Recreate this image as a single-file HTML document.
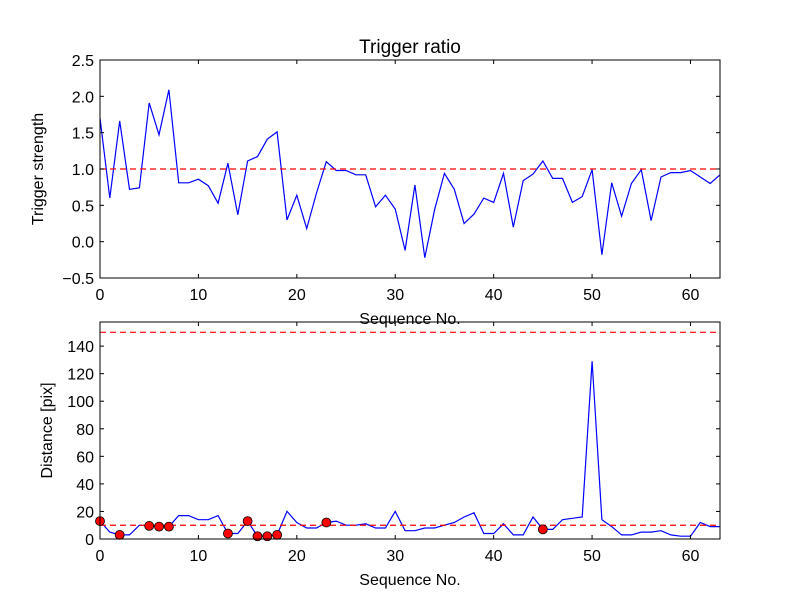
<!DOCTYPE html>
<html><head><meta charset="utf-8"><style>
body{margin:0;background:#fff}
svg text{font-family:"Liberation Sans","DejaVu Sans",sans-serif;fill:#000}
</style></head><body>
<svg id="c" width="800" height="600" xmlns="http://www.w3.org/2000/svg">
<rect width="800" height="600" fill="#fff"/>
</svg>
<script>
const seqIdx = Array.from({length:64},(_,i)=>i);
const ratioValues = [1.7,0.6,1.66,0.72,0.74,1.91,1.47,2.09,0.81,0.81,0.86,0.77,0.53,1.08,0.37,1.11,1.17,1.41,1.51,0.3,0.64,0.18,0.67,1.1,0.98,0.98,0.92,0.92,0.48,0.64,0.45,-0.12,0.78,-0.22,0.44,0.94,0.72,0.25,0.38,0.6,0.54,0.94,0.2,0.84,0.93,1.11,0.87,0.87,0.54,0.62,0.99,-0.18,0.81,0.35,0.8,0.99,0.29,0.89,0.95,0.95,0.98,0.89,0.8,0.92];
const distValues = [13,5,3,3,10,9.5,9,9,17,17,14,14,17,4,4,13,2,2,3,20,12,8,8,12,13,10,10,11,8,8,20,6,6,8,8,10,12,16,19,4,4,11,3,3,16,7,7,14,15,16,129,14,9,3,3,5,5,6,3,2,2,12,9,9];
const flaggedIdx = [0,2,5,6,7,13,15,16,17,18,23,45];
const ratioThreshold = 1.0;
const distThresholds = [10,150];
const xTicks = [0,10,20,30,40,50,60];
const ratioTicks = [-0.5,0.0,0.5,1.0,1.5,2.0,2.5];
const distTicks = [0,20,40,60,80,100,120,140];

const NS="http://www.w3.org/2000/svg";
const svg=document.getElementById('c');
function mk(tag,attrs,parent){const e=document.createElementNS(NS,tag);for(const k in attrs)e.setAttribute(k,attrs[k]);(parent||svg).appendChild(e);return e;}
const L=100,R=720;
const sx=v=>L+(v-0)/(63-0)*(R-L);
function panel(top,bot,ymin,ymax,ticks,fmt,name){
  const sy=v=>bot-(v-ymin)/(ymax-ymin)*(bot-top);
  const g=mk('g',{});
  
  
  return {sy,g,top,bot,ticks,fmt};
}
function axes(p,yTitle,yName){
  const {g,sy,top,bot}=p;
  const fr=mk('rect',{x:L,y:top,width:R-L,height:bot-top,fill:'none',stroke:'#000','stroke-width':1},g);
  
  
  xTicks.forEach(t=>{const x=sx(t);
    mk('line',{x1:x,x2:x,y1:bot,y2:bot-4,stroke:'#000'},g);
    mk('line',{x1:x,x2:x,y1:top,y2:top+4,stroke:'#000'},g);
    const tx=mk('text',{x:x,y:bot+22,'text-anchor':'middle','font-size':16},g);tx.textContent=t;
    
    });
  p.ticks.forEach(t=>{const y=sy(t);
    mk('line',{x1:L,x2:L+4,y1:y,y2:y,stroke:'#000'},g);
    mk('line',{x1:R,x2:R-4,y1:y,y2:y,stroke:'#000'},g);
    const tx=mk('text',{x:L-6,y:y+6,'text-anchor':'end','font-size':16},g);tx.textContent=p.fmt(t);
    
    });
  const xl=mk('text',{x:410,y:bot+46,'text-anchor':'middle','font-size':16},g);xl.textContent='Sequence No.';
  
  
  const yl=mk('text',{x:0,y:0,'text-anchor':'middle','font-size':16,transform:`translate(${yName==='top'?43:52},${(top+bot)/2}) rotate(-90)`},g);yl.textContent=yTitle;
  
  
}
function hline(p,v){const y=p.sy(v);const l=mk('line',{x1:L,x2:R,y1:y,y2:y,stroke:'#f00','stroke-width':1.2,'stroke-dasharray':'6,4'},p.g);
  
  }
function series(p,vals){const d=vals.map((v,i)=>(i?'L':'M')+sx(seqIdx[i]).toFixed(1)+','+p.sy(v).toFixed(1)).join('');
  const pa=mk('path',{d:d,fill:'none',stroke:'#00f','stroke-width':1.2},p.g);
  
  }

const t=document.createElementNS(NS,'text');
t.setAttribute('x',410);t.setAttribute('y',53);t.setAttribute('text-anchor','middle');t.setAttribute('font-size',19);
t.textContent='Trigger ratio';


svg.appendChild(t);

const p1=panel(60,278,-0.5,2.5,ratioTicks,v=>v<0?'\u22120.5':v.toFixed(1),'trigger-strength-panel');
series(p1,ratioValues);
hline(p1,ratioThreshold);
axes(p1,'Trigger strength','top');

const p2=panel(322,539,0,157.5,distTicks,v=>String(v),'distance-panel');
series(p2,distValues);
distThresholds.forEach(v=>hline(p2,v));
flaggedIdx.forEach(i=>{const c=mk('circle',{cx:sx(i),cy:p2.sy(distValues[i]),r:4.5,fill:'#f00',stroke:'#000','stroke-width':0.8},p2.g);
  
  });
axes(p2,'Distance [pix]','bottom');
</script>
</body></html>
